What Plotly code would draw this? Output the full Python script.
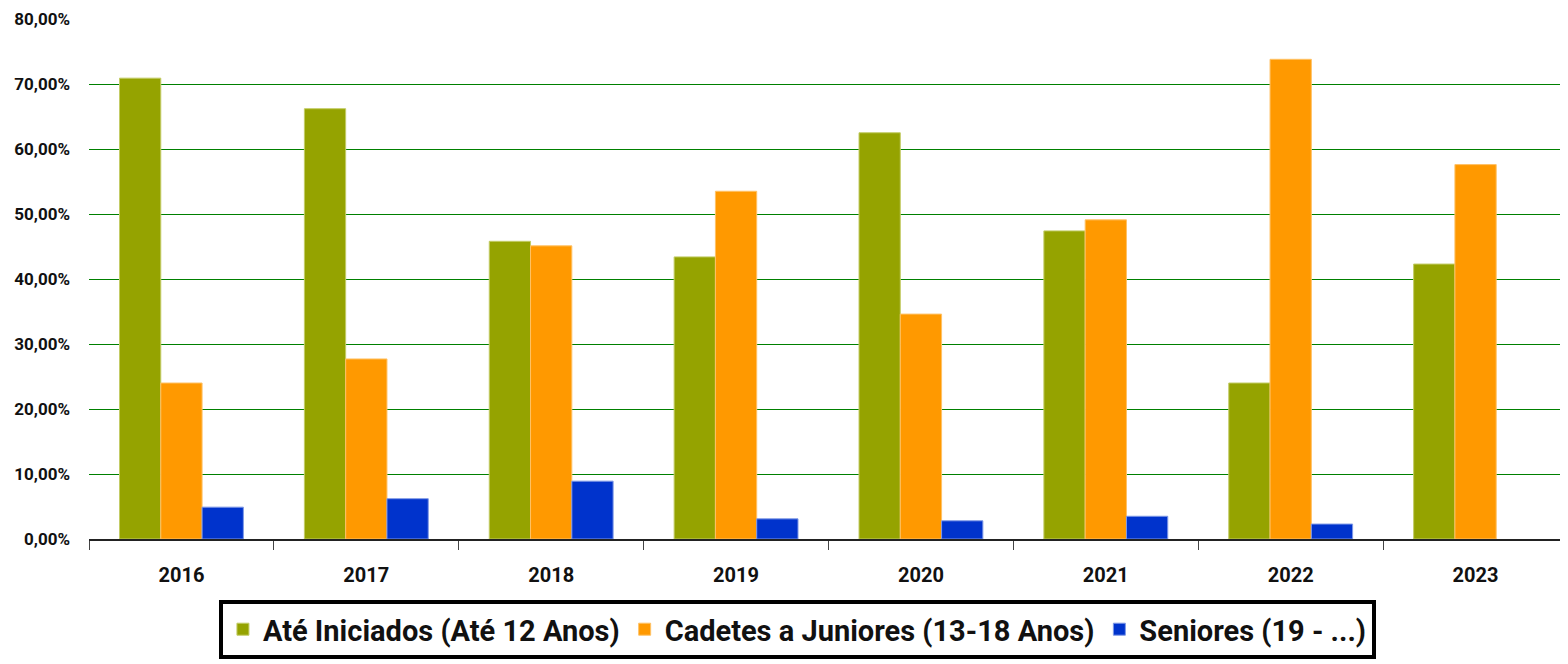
import plotly.graph_objects as go

# data (percentages)
years = ["2016", "2017", "2018", "2019", "2020", "2021", "2022", "2023"]
ate_iniciados = [70.9, 66.2, 45.8, 43.4, 62.5, 47.4, 24.0, 42.3]
cadetes_juniores = [24.0, 27.7, 45.1, 53.5, 34.6, 49.1, 73.8, 57.6]
seniores = [4.9, 6.2, 8.9, 3.1, 2.8, 3.5, 2.3, None]

series_names = ["Até Iniciados (Até 12 Anos)", "Cadetes a Juniores (13-18 Anos)", "Seniores (19 - ...)"]
y_ticks = [0, 10, 20, 30, 40, 50, 60, 70, 80]
y_tick_labels = ["0,00%", "10,00%", "20,00%", "30,00%", "40,00%", "50,00%", "60,00%", "70,00%", "80,00%"]

FONT = "Roboto, Liberation Sans, sans-serif"

fig = go.Figure()
for name, vals, col, edge in [
    (series_names[0], ate_iniciados, "#95a300", "#c3cc66"),
    (series_names[1], cadetes_juniores, "#ff9900", "#ffc266"),
    (series_names[2], seniores, "#0033cc", "#7f99e6"),
]:
    fig.add_trace(go.Bar(
        x=years, y=vals, name=name,
        marker=dict(color=col, line=dict(color=edge, width=1)),
    ))

# page body adds an 8px offset, so the figure is shrunk by that much
fig.update_layout(
    width=1560, height=656,
    barmode="group", bargap=0.33, bargroupgap=0,
    plot_bgcolor="white", paper_bgcolor="white",
    margin=dict(l=81, r=0, t=11, b=125),
    font=dict(family=FONT, size=18, color="#111", weight="bold"),
    showlegend=True,
    legend=dict(
        orientation="h", x=0.479, xanchor="center", y=-0.117, yanchor="top",
        bordercolor="black", borderwidth=4, bgcolor="white",
        font=dict(family=FONT, size=29, color="#111", weight="bold"),
        traceorder="normal", itemwidth=30,
    ),
    xaxis=dict(
        type="category", showline=True, linecolor="#222", linewidth=1.5,
        ticks="outside", tickson="boundaries", ticklen=9, tickcolor="#444",
        tickfont=dict(family=FONT, size=20, color="#111", weight="bold"),
        ticklabelstandoff=17, showgrid=False, automargin=False,
    ),
    yaxis=dict(
        range=[0, 80], tickvals=y_ticks, ticktext=y_tick_labels,
        showgrid=True, gridcolor="#008000", gridwidth=1,
        zeroline=False, showline=False, ticks="",
        tickfont=dict(family=FONT, size=17, color="#111", weight="bold"),
        ticklabelstandoff=18, automargin=False,
    ),
)

fig.write_html("out.html")
